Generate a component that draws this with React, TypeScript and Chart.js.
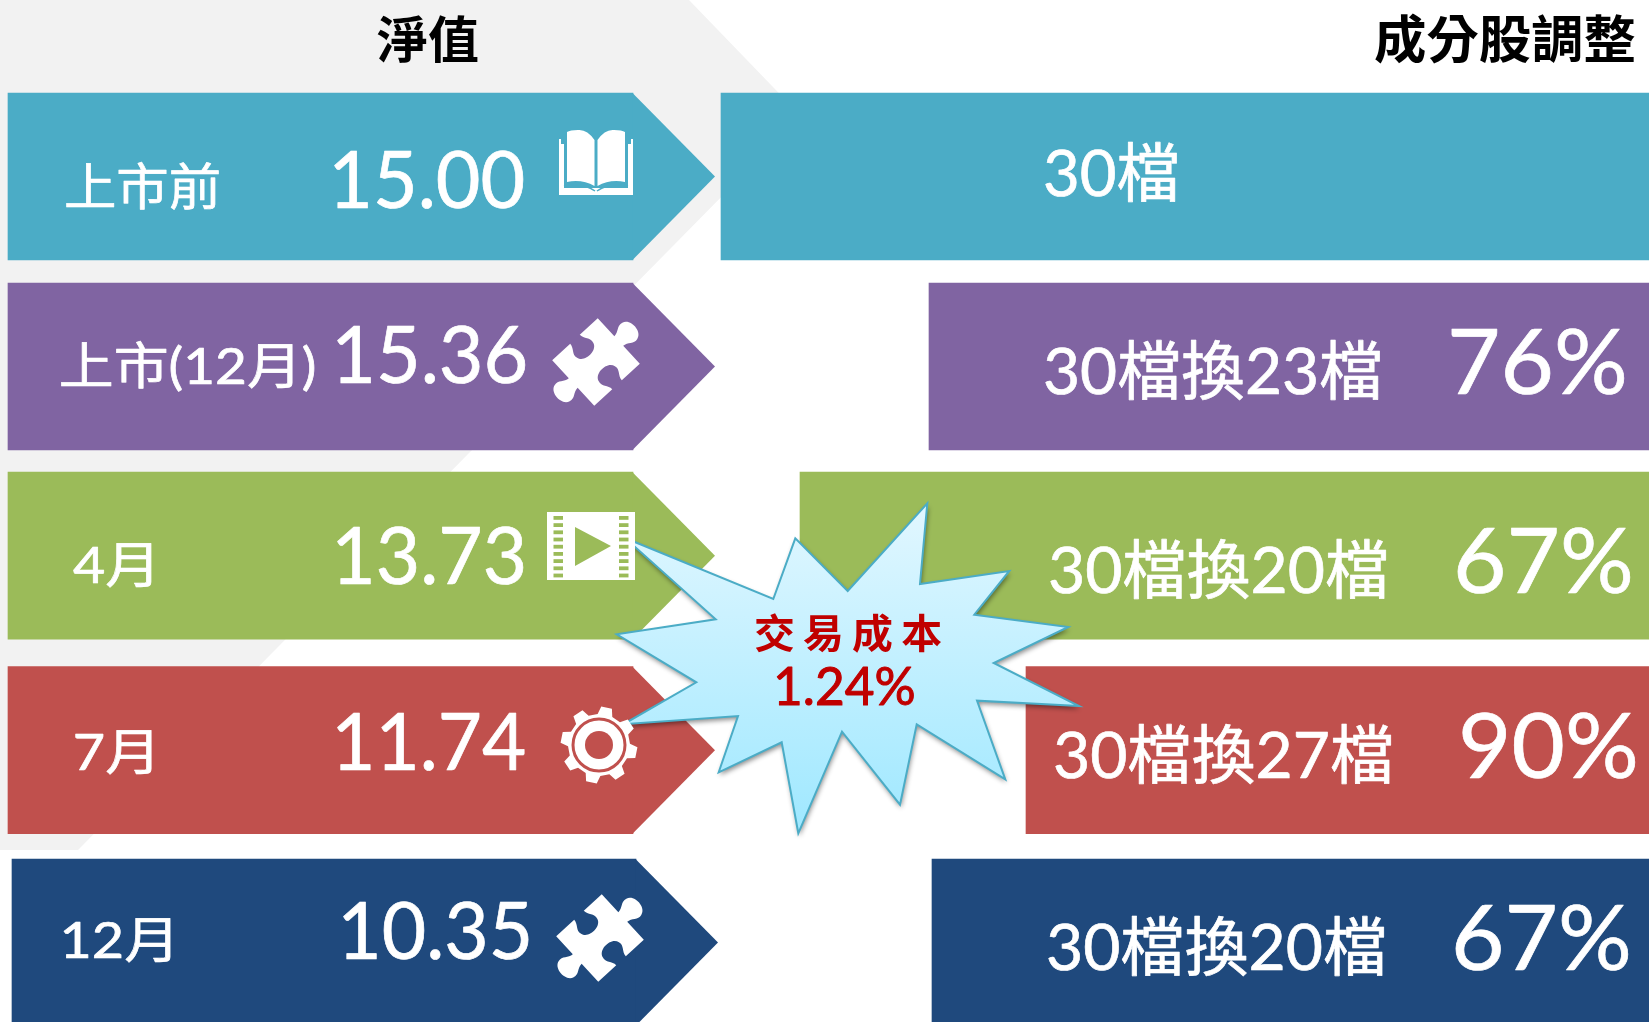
import React, { useEffect, useRef } from "react";
import { Chart, registerables } from "chart.js";

Chart.register(...registerables);

// ---------- data ----------
const categories = ["上市前", "上市(12月)", "4月", "7月", "12月"];
const navValues = [15.0, 15.36, 13.73, 11.74, 10.35];
const holdingsBefore = 30;
const holdingsAfter = [null, 23, 20, 27, 20];
const turnoverPct = [null, 76, 67, 90, 67];
const headingLeft = "淨值";
const headingRight = "成分股調整";
const costLabel = "交易成本";
const costValue = "1.24%";
const icons = ["book", "puzzle", "film", "gear", "puzzle"];

// ---------- layout (pixel-valued scales) ----------
const WIDTH = 1649;
const HEIGHT = 1022;
const FONT = 'Lato,"Noto Sans CJK TC",sans-serif';
const colors = ["#4BACC6", "#8064A2", "#9BBB59", "#C0504D", "#1F497D"];
const rowCentre = [176.5, 366.5, 555.7, 750.2, 942.5];
const rowHeight = 167;
const arrowLeft = [8, 8, 8, 8, 12];
const arrowBody = [633, 633, 633, 633, 636];
const arrowTip = [715, 715, 715, 715, 718];
const panelLeft = [721, 929, 800, 1026, 932];
const labelBox = [[66, 219, 205, 50], [61, 315, 384, 50], [73, 152, 583, 50], [75, 152, 770, 50], [64, 171, 958, 50]];
const navBox = [[334, 523, 208], [337, 525, 383], [337, 523, 584], [337, 525, 770], [343, 529, 959]];
const swapBox = [[1045, 1177, 196], [1045, 1380, 394], [1050, 1386, 592.5], [1055, 1391, 778], [1048, 1384, 970]];
const pctBox = [null, [1451, 1624, 394], [1457, 1630, 592.5], [1462, 1635, 778], [1455, 1628, 970]];
const iconCentre = [[596, 162], [596, 362], [591, 546], [599, 745], [600, 938]];
const backdropX = [0, 689, 801, 78, 0];
const backdropY = [0, 0, 116, 850, 850];
const starX = [625, 773.3, 795.3, 847.7, 927.3, 920, 1009.3, 974.3, 1068.3, 993.7, 1079, 977, 1005.3, 916.7, 900, 842, 798.3, 781.7, 718.7, 738, 623.3, 696.3, 616.7, 715.7];
const starY = [538, 599, 538.3, 591, 503.3, 584, 571, 614.7, 627, 663, 706, 700.7, 779.3, 724.3, 804.7, 731.7, 833.3, 742.3, 772.3, 716, 724.3, 682.3, 634.3, 619.3];

function fit(ctx: any, text: string, x0: number, x1: number, baseline: number, font: string, color: string, spacing = "0px", weight = 0.7) {
  ctx.save();
  ctx.font = font;
  ctx.letterSpacing = spacing;
  ctx.fillStyle = color;
  ctx.strokeStyle = color;
  ctx.lineWidth = weight;
  ctx.lineJoin = "round";
  ctx.textBaseline = "alphabetic";
  ctx.textAlign = "left";
  const m = ctx.measureText(text);
  const ink = m.actualBoundingBoxLeft + m.actualBoundingBoxRight;
  const s = (x1 - x0) / ink;
  ctx.translate(x0 + m.actualBoundingBoxLeft * s, baseline);
  ctx.scale(s, 1);
  ctx.fillText(text, 0, 0);
  if (weight > 0) ctx.strokeText(text, 0, 0);
  ctx.restore();
}

function polygon(ctx: any, xs: number[], ys: number[], sx: any, sy: any) {
  ctx.beginPath();
  xs.forEach((x, i) => {
    const px = sx.getPixelForValue(x);
    const py = sy.getPixelForValue(ys[i]);
    if (i === 0) ctx.moveTo(px, py);
    else ctx.lineTo(px, py);
  });
  ctx.closePath();
}

function drawBook(ctx: any, c: number[], bg: string) {
  const [cx, cy] = c;
  ctx.save();
  ctx.translate(cx, cy);
  ctx.fillStyle = "#fff";
  ctx.beginPath();
  ctx.moveTo(-37, -23);
  ctx.lineTo(-35, -23);
  ctx.lineTo(-35, 26);
  ctx.lineTo(35, 26);
  ctx.lineTo(35, -23);
  ctx.lineTo(37, -23);
  ctx.lineTo(37, 33);
  ctx.lineTo(-37, 33);
  ctx.closePath();
  ctx.fill();
  ctx.fillRect(-36, -18, 4, 48);
  ctx.fillRect(32, -18, 4, 48);
  for (const d of [-1, 1]) {
    ctx.beginPath();
    ctx.moveTo(d * 1.5, 24);
    ctx.lineTo(d * 1.5, -22);
    ctx.quadraticCurveTo(d * 9, -33, d * 18, -32);
    ctx.quadraticCurveTo(d * 26, -32, d * 29, -30);
    ctx.lineTo(d * 29, 20);
    ctx.quadraticCurveTo(d * 14, 17, d * 1.5, 24);
    ctx.closePath();
    ctx.fill();
    ctx.strokeStyle = bg;
    ctx.lineWidth = 1.5;
    ctx.beginPath();
    ctx.moveTo(d * 32, 24);
    ctx.quadraticCurveTo(d * 14, 20, d * 1, 29);
    ctx.stroke();
  }
  ctx.restore();
}

function drawPuzzle(ctx: any, c: number[]) {
  const [cx, cy] = c;
  const a = 31;
  const r = 11;
  const n = 6.5;
  ctx.save();
  ctx.translate(cx, cy);
  ctx.rotate(Math.PI / 4 + 0.04);
  ctx.fillStyle = "#fff";
  ctx.beginPath();
  ctx.moveTo(-a, -a);
  ctx.lineTo(-n, -a);
  ctx.bezierCurveTo(-n, -a - 6, -r - 2, -a - 9, -r, -a - 15);
  ctx.bezierCurveTo(-r + 2, -a - 24, r - 2, -a - 24, r, -a - 15);
  ctx.bezierCurveTo(r + 2, -a - 9, n, -a - 6, n, -a);
  ctx.lineTo(a, -a);
  ctx.lineTo(a, -n);
  ctx.bezierCurveTo(a - 6, -n, a - 9, -r - 2, a - 15, -r);
  ctx.bezierCurveTo(a - 24, -r + 2, a - 24, r - 2, a - 15, r);
  ctx.bezierCurveTo(a - 9, r + 2, a - 6, n, a, n);
  ctx.lineTo(a, a);
  ctx.lineTo(n, a);
  ctx.bezierCurveTo(n, a + 6, r + 2, a + 9, r, a + 15);
  ctx.bezierCurveTo(r - 2, a + 24, -r + 2, a + 24, -r, a + 15);
  ctx.bezierCurveTo(-r - 2, a + 9, -n, a + 6, -n, a);
  ctx.lineTo(-a, a);
  ctx.lineTo(-a, n);
  ctx.bezierCurveTo(-a + 6, n, -a + 9, r + 2, -a + 15, r);
  ctx.bezierCurveTo(-a + 24, r - 2, -a + 24, -r + 2, -a + 15, -r);
  ctx.bezierCurveTo(-a + 9, -r - 2, -a + 6, -n, -a, -n);
  ctx.closePath();
  ctx.fill();
  ctx.restore();
}

function drawFilm(ctx: any, c: number[], bg: string) {
  const [cx, cy] = c;
  ctx.save();
  ctx.translate(cx, cy);
  ctx.fillStyle = "#fff";
  ctx.fillRect(-44, -34, 88, 68);
  ctx.fillStyle = bg;
  for (let i = 0; i < 9; i++) {
    const y = -30 + i * 7.2;
    ctx.fillRect(-37.5, y, 9.5, 3.8);
    ctx.fillRect(28, y, 9.5, 3.8);
  }
  ctx.beginPath();
  ctx.moveTo(-16, -19);
  ctx.lineTo(20, 0);
  ctx.lineTo(-16, 20);
  ctx.closePath();
  ctx.fill();
  ctx.restore();
}

function drawGear(ctx: any, c: number[], bg: string) {
  const [cx, cy] = c;
  ctx.save();
  ctx.translate(cx, cy);
  ctx.fillStyle = "#fff";
  ctx.beginPath();
  const teeth = 8;
  for (let i = 0; i < teeth; i++) {
    const t = (i / teeth) * Math.PI * 2 + 0.2;
    const w = Math.PI / teeth;
    const pts: number[][] = [[31, t - w * 0.62], [38.5, t - w * 0.36], [38.5, t + w * 0.36], [31, t + w * 0.62]];
    for (const [rad, ang] of pts) {
      const x = rad * Math.cos(ang);
      const y = rad * Math.sin(ang);
      if (i === 0 && rad === 31 && ang < t) ctx.moveTo(x, y);
      else ctx.lineTo(x, y);
    }
  }
  ctx.closePath();
  ctx.fill();
  ctx.strokeStyle = bg;
  ctx.lineWidth = 3;
  ctx.beginPath();
  ctx.arc(0, 0, 26, 0, Math.PI * 2);
  ctx.stroke();
  ctx.fillStyle = bg;
  ctx.beginPath();
  ctx.arc(0, 0, 14, 0, Math.PI * 2);
  ctx.fill();
  ctx.restore();
}

const infographic = {
  id: "infographic",
  beforeDatasetsDraw(chart: any) {
    const { ctx, scales } = chart;
    ctx.save();
    ctx.fillStyle = "#F2F2F2";
    polygon(ctx, backdropX, backdropY, scales.x, scales.y);
    ctx.fill();
    ctx.restore();
  },
  afterDatasetsDraw(chart: any) {
    const { ctx, scales } = chart;
    const sx = scales.x;
    const sy = scales.y;
    const arrows = chart.getDatasetMeta(0).data;

    ctx.save();
    arrows.forEach((bar: any, i: number) => {
      ctx.fillStyle = colors[i];
      ctx.beginPath();
      ctx.moveTo(bar.x - 0.5, bar.y - bar.height / 2);
      ctx.lineTo(sx.getPixelForValue(arrowTip[i]), bar.y);
      ctx.lineTo(bar.x - 0.5, bar.y + bar.height / 2);
      ctx.closePath();
      ctx.fill();
    });

    fit(ctx, headingLeft, 377, 478, 58, `700 50px ${FONT}`, "#000", "0px", 0);
    fit(ctx, headingRight, 1375, 1635, 58, `700 51px ${FONT}`, "#000", "0px", 0);

    categories.forEach((label, i) => {
      const [lx0, lx1, lb, lf] = labelBox[i];
      fit(ctx, label, lx0, lx1, lb, `400 ${lf}px ${FONT}`, "#fff");
      const [nx0, nx1, nb] = navBox[i];
      fit(ctx, navValues[i].toFixed(2), nx0, nx1, nb, `400 80px ${FONT}`, "#fff");
      const after = holdingsAfter[i];
      const swap = after === null ? `${holdingsBefore}檔` : `${holdingsBefore}檔換${after}檔`;
      const [sx0, sx1, sb] = swapBox[i];
      fit(ctx, swap, sx0, sx1, sb, `400 64px ${FONT}`, "#fff");
      const box = pctBox[i];
      if (box) fit(ctx, `${turnoverPct[i]}%`, box[0], box[1], box[2], `400 92px ${FONT}`, "#fff");
    });

    // burst callout sits under the icons
    const grad = ctx.createLinearGradient(0, sy.getPixelForValue(503), 0, sy.getPixelForValue(833));
    grad.addColorStop(0, "#E2F7FF");
    grad.addColorStop(1, "#9FE8FF");
    ctx.save();
    ctx.shadowColor = "rgba(0,0,0,0.45)";
    ctx.shadowBlur = 5;
    ctx.shadowOffsetX = 1;
    ctx.shadowOffsetY = 3;
    ctx.fillStyle = grad;
    polygon(ctx, starX, starY, sx, sy);
    ctx.fill();
    ctx.restore();
    ctx.strokeStyle = "#4BACC6";
    ctx.lineWidth = 2;
    ctx.lineJoin = "miter";
    polygon(ctx, starX, starY, sx, sy);
    ctx.stroke();

    fit(ctx, costLabel, 755, 941, 648, `700 40px ${FONT}`, "#C00000", "8px", 0);
    fit(ctx, costValue, 777, 914, 705, `400 52px ${FONT}`, "#C00000", "0px", 1);

    icons.forEach((kind, i) => {
      if (kind === "book") drawBook(ctx, iconCentre[i], colors[i]);
      if (kind === "puzzle") drawPuzzle(ctx, iconCentre[i]);
      if (kind === "film") drawFilm(ctx, iconCentre[i], colors[i]);
      if (kind === "gear") drawGear(ctx, iconCentre[i], colors[i]);
    });
    ctx.restore();
  },
};

export default function App() {
  const ref = useRef<HTMLCanvasElement>(null);
  useEffect(() => {
    const prev = document.body.style.margin;
    document.body.style.margin = "0";
    const chart = new Chart(ref.current as HTMLCanvasElement, {
      type: "bar",
      data: {
        datasets: [
          {
            label: "淨值",
            data: categories.map((_, i) => ({ x: [arrowLeft[i], arrowBody[i]], y: rowCentre[i] })),
            backgroundColor: colors,
            barThickness: rowHeight,
            grouped: false,
          },
          {
            label: "成分股調整",
            data: categories.map((_, i) => ({ x: [panelLeft[i], WIDTH], y: rowCentre[i] })),
            backgroundColor: colors,
            barThickness: rowHeight,
            grouped: false,
          },
        ] as any,
      },
      options: {
        indexAxis: "y",
        responsive: false,
        animation: false,
        layout: { padding: 0 },
        plugins: { legend: { display: false }, tooltip: { enabled: false } },
        scales: {
          x: { type: "linear", min: 0, max: WIDTH, display: false, offset: false },
          y: { type: "linear", min: 0, max: HEIGHT, reverse: true, display: false, offset: false },
        },
      } as any,
      plugins: [infographic as any],
    });
    return () => {
      chart.destroy();
      document.body.style.margin = prev;
    };
  }, []);
  return (
    <div style={{ width: WIDTH, height: HEIGHT, overflow: "hidden", background: "#fff" }}>
      <canvas ref={ref} width={WIDTH} height={HEIGHT} style={{ display: "block" }} />
    </div>
  );
}
